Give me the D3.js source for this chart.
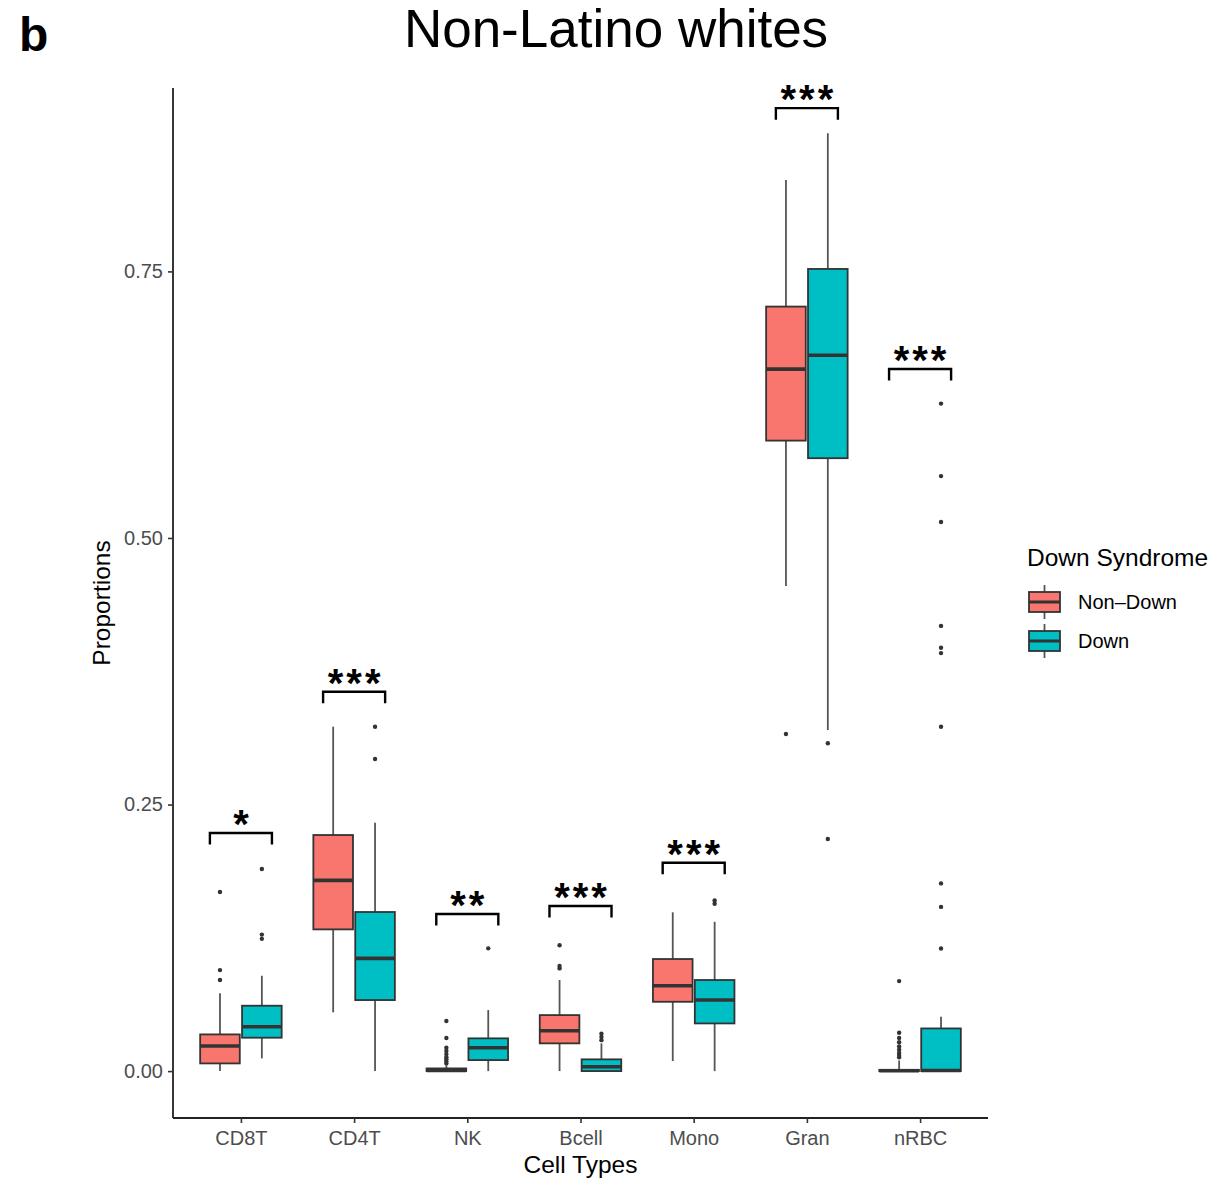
<!DOCTYPE html>
<html>
<head>
<meta charset="utf-8">
<script src="https://cdn.jsdelivr.net/npm/d3@7"></script>
<style>
  body { margin: 0; background: #fff; }
  svg { font-family: "Liberation Sans", Arial, Helvetica, sans-serif; }
</style>
</head>
<body>
<svg id="chart"></svg>
<script>
"use strict";

// categories and groups
var cellTypes = ["CD8T", "CD4T", "NK", "Bcell", "Mono", "Gran", "nRBC"];
var groups = ["Non\u2013Down", "Down"];
var groupColors = ["#F8766D", "#00BFC4"];

// box stats per cell type: [whisker low, q1, median, q3, whisker high]
var nonDownBox = [
    [0.000, 0.0072, 0.0235, 0.0344, 0.073],
    [0.0551, 0.1329, 0.1789, 0.2214, 0.323],
    [0.000, 0.000, 0.0006, 0.0025, 0.005],
    [0.000, 0.026, 0.0378, 0.0525, 0.0854],
    [0.0094, 0.065, 0.080, 0.1051, 0.1489],
    [0.455, 0.5913, 0.6583, 0.717, 0.8358],
    [0.000, 0.000, 0.0003, 0.0012, 0.010]
];
var downBox = [
    [0.0119, 0.0313, 0.0416, 0.0613, 0.0894],
    [0.000, 0.0666, 0.1057, 0.1492, 0.2329],
    [0.000, 0.0103, 0.0219, 0.0307, 0.0572],
    [0.000, 0.000, 0.004, 0.011, 0.026],
    [0.000, 0.0447, 0.0666, 0.0854, 0.140],
    [0.3199, 0.5748, 0.6714, 0.7523, 0.8796],
    [0.000, 0.000, 0.0005, 0.040, 0.051]
];

// outliers per cell type
var nonDownOutliers = [
    [0.168, 0.0947, 0.0854],
    [],
    [0.047, 0.031, 0.022, 0.019, 0.016, 0.013, 0.011, 0.009, 0.007],
    [0.118, 0.0985, 0.0963],
    [],
    [0.3161],
    [0.0844, 0.036, 0.031, 0.027, 0.023, 0.020, 0.017, 0.015, 0.013]
];
var downOutliers = [
    [0.1895, 0.128, 0.124],
    [0.323, 0.2927],
    [0.1151],
    [0.035, 0.032, 0.029],
    [0.160, 0.157],
    [0.3074, 0.2176],
    [0.626, 0.558, 0.515, 0.4175, 0.397, 0.392, 0.323, 0.176, 0.154, 0.115]
];

// significance brackets
var sigLabels = ["*", "***", "**", "***", "***", "***", "***"];
var sigHeights = [0.2233, 0.3558, 0.1473, 0.1548, 0.1954, 0.9031, 0.6585];

var yTicks = [0, 0.25, 0.5, 0.75];

var width = 1221,
    height = 1182;

var svg = d3.select("#chart")
    .attr("width", width)
    .attr("height", height);

var panel = { left: 173, right: 988, top: 88, bottom: 1118 };

var x = d3.scalePoint()
    .domain(cellTypes)
    .range([panel.left, panel.right])
    .padding(0.6);

var y = d3.scaleLinear()
    .domain([-0.044, 0.922])
    .range([panel.bottom, panel.top]);

var step = x.step();
var boxW = step * 0.35;
var dodge = step * 0.185;

// title and panel letter
svg.append("text")
    .attr("x", 616).attr("y", 47)
    .attr("text-anchor", "middle")
    .style("font-size", "53px")
    .text("Non-Latino whites");

svg.append("text")
    .attr("x", 19).attr("y", 51)
    .style("font-size", "48px")
    .style("font-weight", "bold")
    .text("b");

// boxes
function drawGroup(stats, outliers, gi) {
    var g = svg.append("g");
    cellTypes.forEach(function (c, i) {
        var s = stats[i];
        var cx = x(c) + (gi === 0 ? -dodge : dodge);
        // whiskers
        g.append("line")
            .attr("x1", cx).attr("x2", cx)
            .attr("y1", y(s[4])).attr("y2", y(s[3]))
            .attr("stroke", "#555").attr("stroke-width", 1.8);
        g.append("line")
            .attr("x1", cx).attr("x2", cx)
            .attr("y1", y(s[1])).attr("y2", y(s[0]))
            .attr("stroke", "#555").attr("stroke-width", 1.8);
        // box
        g.append("rect")
            .attr("x", cx - boxW / 2)
            .attr("y", y(s[3]))
            .attr("width", boxW)
            .attr("height", Math.max(y(s[1]) - y(s[3]), 0.5))
            .attr("fill", groupColors[gi])
            .attr("stroke", "#333").attr("stroke-width", 1.8);
        // median
        g.append("line")
            .attr("x1", cx - boxW / 2).attr("x2", cx + boxW / 2)
            .attr("y1", y(s[2])).attr("y2", y(s[2]))
            .attr("stroke", "#333").attr("stroke-width", 3.6);
        // outliers
        g.selectAll(null)
            .data(outliers[i])
            .enter().append("circle")
            .attr("cx", cx)
            .attr("cy", function (d) { return y(d); })
            .attr("r", 2.2)
            .attr("fill", "#333");
    });
}

drawGroup(nonDownBox, nonDownOutliers, 0);
drawGroup(downBox, downOutliers, 1);

// significance brackets
var brackets = svg.append("g");
cellTypes.forEach(function (c, i) {
    var x0 = x(c) - step * 0.274,
        x1 = x(c) + step * 0.274,
        yb = y(sigHeights[i]),
        leg = 11.5;
    brackets.append("path")
        .attr("d", "M" + x0 + "," + (yb + leg) + "V" + yb + "H" + x1 + "V" + (yb + leg))
        .attr("fill", "none")
        .attr("stroke", "#000").attr("stroke-width", 2.4);
    // letter-spacing adds trailing space, so shift by half of it
    var n = sigLabels[i].length;
    brackets.append("text")
        .attr("x", x(c) + (n > 1 ? 1.5 : 0)).attr("y", yb + 5)
        .attr("text-anchor", "middle")
        .style("font-size", "40px")
        .style("font-weight", "bold")
        .style("letter-spacing", n > 1 ? "3px" : "0px")
        .text(sigLabels[i]);
});

// axes
var yAxis = svg.append("g")
    .attr("transform", "translate(" + panel.left + ",0)")
    .call(d3.axisLeft(y).tickValues(yTicks).tickFormat(d3.format(".2f")).tickSize(5).tickPadding(5));
yAxis.select(".domain").attr("d", "M0," + panel.top + "V" + panel.bottom);

var xAxis = svg.append("g")
    .attr("transform", "translate(0," + panel.bottom + ")")
    .call(d3.axisBottom(x).tickSize(5).tickPadding(8));
xAxis.select(".domain").attr("d", "M" + panel.left + ",0H" + panel.right);

svg.selectAll(".domain").attr("stroke", "#222").attr("stroke-width", 1.8);
svg.selectAll(".tick line").attr("stroke", "#333").attr("stroke-width", 1.6);
svg.selectAll(".tick text")
    .attr("fill", "#4d4d4d")
    .style("font-size", "20px")
    .style("font-family", "'Liberation Sans', Arial, sans-serif");

// axis titles
svg.append("text")
    .attr("x", (panel.left + panel.right) / 2).attr("y", 1173)
    .attr("text-anchor", "middle")
    .style("font-size", "24.5px")
    .text("Cell Types");

svg.append("text")
    .attr("transform", "translate(110," + ((panel.top + panel.bottom) / 2) + ") rotate(-90)")
    .attr("text-anchor", "middle")
    .style("font-size", "24.5px")
    .text("Proportions");

// legend
var legend = svg.append("g").attr("transform", "translate(1027,0)");
legend.append("text")
    .attr("x", 0).attr("y", 566)
    .style("font-size", "24.5px")
    .text("Down Syndrome");

groups.forEach(function (name, gi) {
    var top = 592 + gi * 39;
    var kx = 2, kw = 31, kh = 20;
    legend.append("line")
        .attr("x1", kx + kw / 2).attr("x2", kx + kw / 2)
        .attr("y1", top - 7).attr("y2", top + kh + 7)
        .attr("stroke", "#555").attr("stroke-width", 1.8);
    legend.append("rect")
        .attr("x", kx).attr("y", top)
        .attr("width", kw).attr("height", kh)
        .attr("fill", groupColors[gi])
        .attr("stroke", "#333").attr("stroke-width", 1.8);
    legend.append("line")
        .attr("x1", kx).attr("x2", kx + kw)
        .attr("y1", top + kh / 2).attr("y2", top + kh / 2)
        .attr("stroke", "#333").attr("stroke-width", 3);
    legend.append("text")
        .attr("x", 51).attr("y", top + kh / 2)
        .attr("dy", "0.36em")
        .style("font-size", "20px")
        .text(name);
});
</script>
</body>
</html>
